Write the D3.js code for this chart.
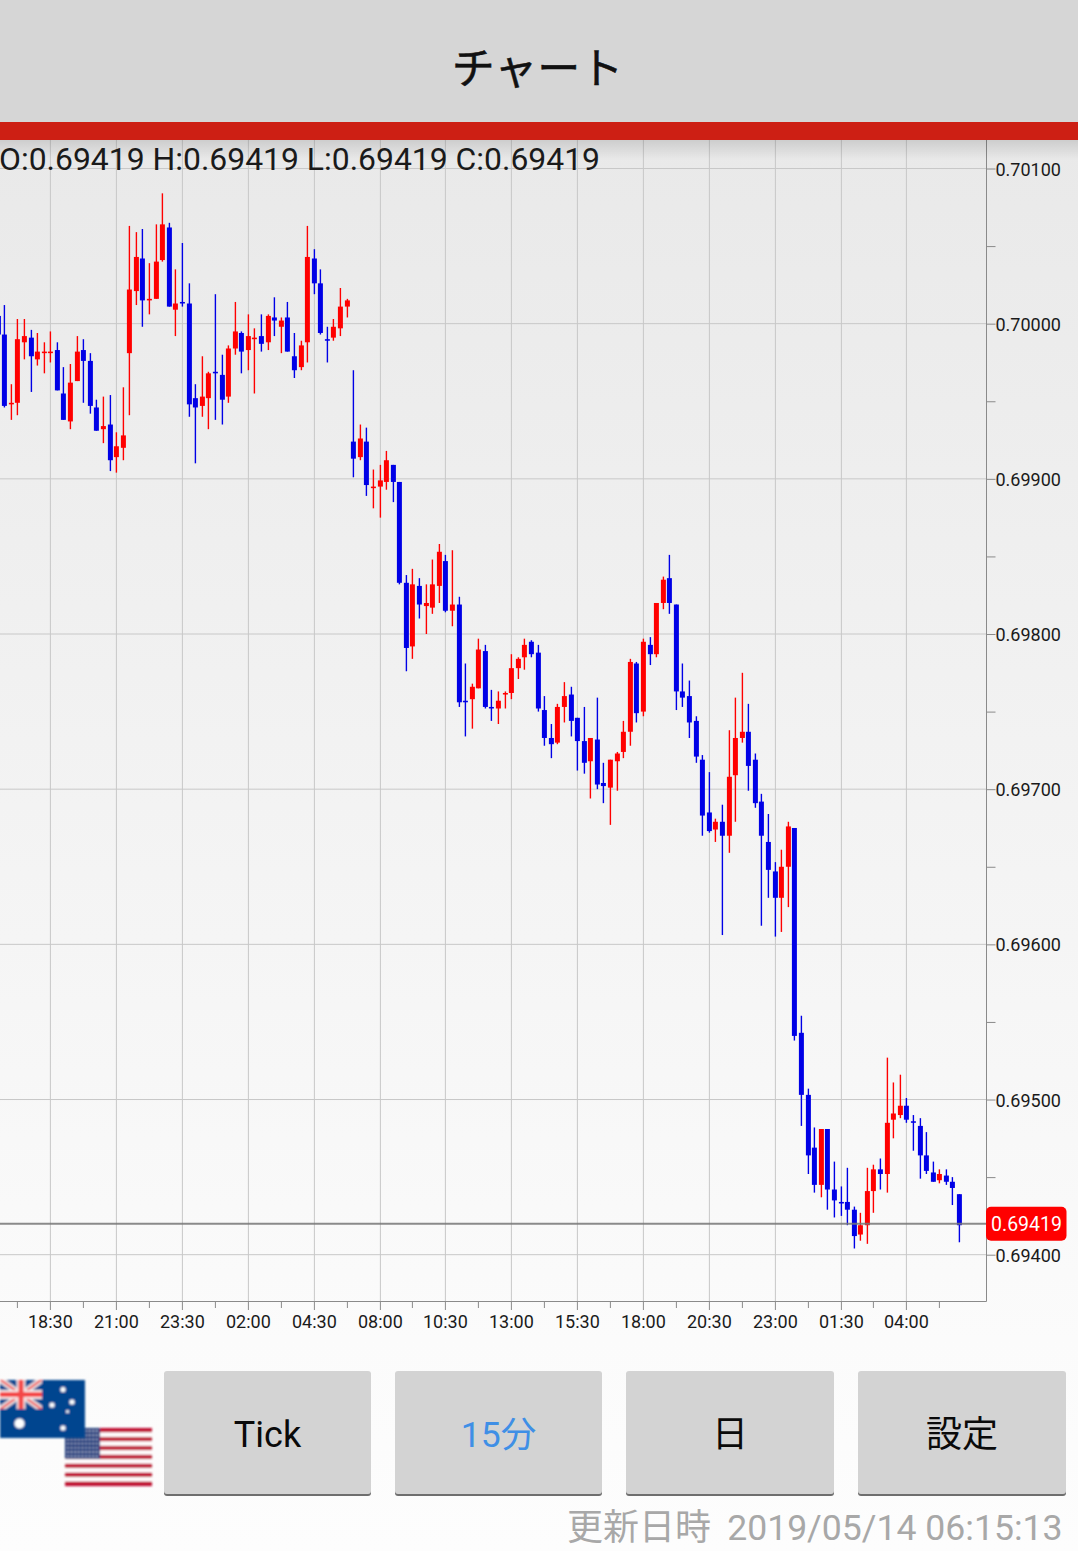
<!DOCTYPE html>
<html lang="ja">
<head>
<meta charset="utf-8">
<title>チャート</title>
<script src="https://cdn.jsdelivr.net/npm/d3@7/dist/d3.min.js"></script>
<style>
html,body{margin:0;padding:0;background:#fdfdfd;}
svg{display:block;}
text{font-family:Roboto,"Noto Sans CJK JP",sans-serif;}
.jp{font-family:"Noto Sans CJK JP",sans-serif;}
</style>
</head>
<body>
<svg id="chart" width="1078" height="1551" viewBox="0 0 1078 1551"></svg>
<script>
// Prices are expressed in 1/100000 units (69419 = 0.69419). One 15-minute candle per entry.
const opens = [70005,69993,69948,69949,69988,69991,69977,69981,69981,69983,69955,69937,69963,69983,69976,69946,69932,69935,69914,69920,
69981,70021,70042,70015,70016,70041,70062,70009,70014,70013,69952,69947,69952,69969,69967,69953,69984,69994,69983,69990,
69992,69988,70004,69998,70004,69979,69972,69988,70042,70026,69990,69991,69997,70011,69924,69914,69924,69894,69895,69898,
69909,69898,69833,69792,69831,69818,69817,69831,69847,69815,69819,69757,69758,69765,69789,69753,69752,69761,69762,69778,
69785,69795,69788,69751,69733,69730,69753,69761,69746,69731,69718,69732,69704,69701,69718,69724,69737,69781,69750,69793,
69787,69820,69836,69819,69763,69760,69744,69719,69685,69674,69679,69670,69709,69733,69737,69719,69692,69666,69647,69630,
69650,69675,69543,69503,69469,69445,69481,69442,69434,69434,69429,69413,69419,69441,69455,69452,69487,69490,69496,69486,
69483,69464,69453,69448,69451,69447,69439];
const closes = [69993,69947,69949,69990,69992,69979,69982,69982,69982,69957,69938,69962,69982,69976,69947,69931,69934,69912,69921,69928,
70022,70043,70015,70016,70040,70064,70011,70013,70013,69948,69946,69953,69968,69968,69951,69984,69995,69982,69992,69991,
69987,70005,70002,70002,69982,69970,69986,70043,70026,69994,69989,69998,70011,70015,69913,69926,69896,69895,69899,69912,
69898,69833,69791,69832,69819,69820,69832,69853,69815,69819,69756,69756,69766,69790,69753,69752,69757,69762,69778,69784,
69793,69787,69752,69733,69729,69753,69760,69744,69731,69717,69733,69703,69702,69719,69723,69737,69782,69749,69795,69787,
69820,69835,69820,69763,69759,69743,69721,69683,69673,69679,69670,69708,69733,69737,69715,69691,69670,69648,69630,69650,
69676,69541,69503,69464,69445,69481,69442,69435,69433,69429,69412,69419,69441,69455,69452,69485,69491,69496,69487,69485,
69464,69454,69447,69452,69447,69443,69419];
const highs = [70007,70012,69961,70003,70003,69996,69994,69988,69995,69988,69972,69974,69992,69990,69981,69951,69953,69954,69930,69959,
70063,70059,70061,70039,70064,70084,70065,70035,70052,70026,69961,69979,69969,70019,69980,69986,70014,69995,70006,69997,
70006,70006,70017,70004,70014,69994,69989,70063,70048,70035,69998,70003,70023,70016,69970,69935,69933,69906,69909,69918,
69909,69898,69838,69842,69836,69832,69848,69858,69851,69854,69824,69781,69768,69797,69793,69764,69763,69763,69787,69785,
69797,69796,69793,69760,69742,69755,69769,69766,69746,69753,69733,69759,69717,69719,69724,69744,69784,69782,69797,69798,
69820,69837,69851,69819,69781,69770,69747,69722,69711,69681,69690,69738,69759,69775,69755,69723,69697,69684,69653,69661,
69679,69675,69554,69507,69482,69481,69481,69460,69444,69456,69431,69427,69456,69458,69462,69527,69511,69516,69501,69490,
69488,69479,69460,69455,69455,69450,69439];
const lows = [69992,69946,69938,69941,69977,69956,69973,69968,69975,69957,69938,69932,69963,69949,69942,69931,69923,69905,69904,69912,
69941,70012,69998,70006,70016,70040,70011,69992,70011,69940,69910,69940,69932,69938,69935,69949,69980,69968,69970,69955,
69982,69983,69992,69981,69982,69965,69970,69975,70019,69993,69975,69989,69992,70004,69901,69912,69889,69881,69875,69893,
69885,69832,69776,69784,69810,69800,69813,69820,69814,69805,69753,69734,69739,69765,69752,69744,69742,69752,69758,69771,
69777,69785,69750,69728,69720,69729,69743,69734,69712,69710,69694,69700,69691,69677,69699,69720,69728,69743,69747,69780,
69785,69816,69813,69751,69753,69733,69717,69670,69672,69666,69606,69659,69679,69730,69699,69688,69612,69630,69605,69608,
69624,69538,69483,69452,69440,69437,69429,69424,69425,69419,69404,69409,69407,69427,69442,69440,69475,69488,69485,69467,
69449,69452,69447,69446,69445,69432,69408];

const timeLabels = ["18:30","21:00","23:30","02:00","04:30","08:00","10:30","13:00","15:30","18:00","20:30","23:00","01:30","04:00"];
const timeTickIndex = [8,18,28,38,48,58,68,78,88,98,108,118,128,138];
const minorTimeIndex = [3,13,23,33,43,53,63,73,83,93,103,113,123,133,143];
const priceLabels = [69400,69500,69600,69700,69800,69900,70000,70100];
const priceMinor = [69450,69550,69650,69750,69850,69950,70050];
const currentPrice = 69419;
const ohlcText = "O:0.69419 H:0.69419 L:0.69419 C:0.69419";
const updateLabel = "更新日時";
const updateStamp = "2019/05/14 06:15:13";
const buttons = ["Tick","15分","日","設定"];

const svg = d3.select("#chart");
const defs = svg.append("defs");
const bg = defs.append("linearGradient").attr("id","bg").attr("x1",0).attr("y1",0).attr("x2",0).attr("y2",1);
bg.append("stop").attr("offset","0%").attr("stop-color","#e9e9e9");
bg.append("stop").attr("offset","85%").attr("stop-color","#fbfbfb");
bg.append("stop").attr("offset","100%").attr("stop-color","#fdfdfd");
const sh = defs.append("linearGradient").attr("id","sh").attr("x1",0).attr("y1",0).attr("x2",0).attr("y2",1);
sh.append("stop").attr("offset","0%").attr("stop-color","#000").attr("stop-opacity",0.12);
sh.append("stop").attr("offset","100%").attr("stop-color","#000").attr("stop-opacity",0);
defs.append("filter").attr("id","soft").attr("x","-5%").attr("y","-5%").attr("width","110%").attr("height","110%")
  .append("feGaussianBlur").attr("stdDeviation",0.9);
defs.append("clipPath").attr("id","jack").append("rect").attr("x",0).attr("y",1380).attr("width",42).attr("height",29);
defs.append("clipPath").attr("id","plot").append("rect").attr("x",0).attr("y",140).attr("width",986).attr("height",1161);

// page
svg.append("rect").attr("x",0).attr("y",140).attr("width",1078).attr("height",1411).attr("fill","url(#bg)");

// scales
const plot = {left:0,right:986,top:140,bottom:1301};
const x = d3.scaleLinear().domain([8,138]).range([50.3,906.35]);
const y = d3.scaleLinear().domain([69400,70100]).range([1254.7,168.5]);
const px = v => Math.floor(x(v) + 0.5) + 0.4;

// grid
svg.append("g").selectAll("line").data(timeTickIndex).join("line")
  .attr("x1",d=>px(d)).attr("x2",d=>px(d)).attr("y1",plot.top).attr("y2",plot.bottom)
  .attr("stroke","#c8c8c8").attr("stroke-width",1);
svg.append("g").selectAll("line").data(priceLabels).join("line")
  .attr("x1",plot.left).attr("x2",plot.right).attr("y1",d=>y(d)).attr("y2",d=>y(d))
  .attr("stroke","#c8c8c8").attr("stroke-width",1);

// candles
const candles = opens.map((o,i)=>({i,o,c:closes[i],h:highs[i],l:lows[i]}));
const colour = d => d.c > d.o ? "#ff0000" : "#0000e6";
const gC = svg.append("g").attr("clip-path","url(#plot)");
gC.selectAll("line.w").data(candles).join("line").attr("class","w")
  .attr("x1",d=>px(d.i)).attr("x2",d=>px(d.i)).attr("y1",d=>y(d.h)).attr("y2",d=>y(d.l))
  .attr("stroke",colour).attr("stroke-width",1.4);
gC.selectAll("rect.b").data(candles).join("rect").attr("class","b")
  .attr("x",d=>px(d.i)-2.5).attr("width",5)
  .attr("y",d=>y(Math.max(d.o,d.c))).attr("height",d=>Math.max(1.5,Math.abs(y(d.o)-y(d.c))))
  .attr("fill",colour);

// current price line
svg.append("line").attr("x1",0).attr("x2",plot.right).attr("y1",y(currentPrice)-1.4).attr("y2",y(currentPrice)-1.4)
  .attr("stroke","#777").attr("stroke-opacity",0.85).attr("stroke-width",2);

// axes
const fmtPrice = d => (d/100000).toFixed(5);
const yAxis = svg.append("g").attr("transform",`translate(${plot.right+0.5},0)`)
  .call(d3.axisRight(y).tickValues(priceLabels).tickFormat(fmtPrice).tickSize(9).tickPadding(0));
yAxis.select(".domain").remove();
yAxis.selectAll("line").attr("stroke","#8a8a8a");
yAxis.selectAll("text").attr("font-size",18).attr("fill","#1a1a1a").attr("font-family","Roboto")
  .attr("transform","translate(0,0.8)");
const yMinor = svg.append("g").attr("transform",`translate(${plot.right+0.5},0)`)
  .call(d3.axisRight(y).tickValues(priceMinor).tickFormat("").tickSize(9));
yMinor.select(".domain").remove();
yMinor.selectAll("line").attr("stroke","#8a8a8a");

const xAxis = svg.append("g").attr("transform",`translate(0,${plot.bottom})`)
  .call(d3.axisBottom(d3.scalePoint().domain(timeTickIndex).range([px(8),px(138)]))
    .tickValues(timeTickIndex).tickFormat((d,i)=>timeLabels[i]).tickSize(9).tickPadding(5).offset(0));
xAxis.select(".domain").remove();
xAxis.selectAll(".tick").attr("transform",d=>`translate(${px(d)},0)`);
xAxis.selectAll("line").attr("stroke","#8a8a8a");
xAxis.selectAll("text").attr("font-size",18).attr("fill","#1a1a1a").attr("font-family","Roboto");
svg.append("g").selectAll("line").data(minorTimeIndex).join("line")
  .attr("x1",d=>px(d)).attr("x2",d=>px(d)).attr("y1",plot.bottom).attr("y2",plot.bottom+7)
  .attr("stroke","#8a8a8a");
svg.append("line").attr("x1",0).attr("x2",plot.right+0.5).attr("y1",plot.bottom+0.5).attr("y2",plot.bottom+0.5).attr("stroke","#8a8a8a");
svg.append("line").attr("x1",plot.right+0.5).attr("x2",plot.right+0.5).attr("y1",plot.top).attr("y2",plot.bottom+0.5).attr("stroke","#8a8a8a");

// current price tag
svg.append("rect").attr("x",986).attr("y",y(currentPrice)-18.4).attr("width",80.5).attr("height",34).attr("rx",5).attr("fill","#ff0000");
svg.append("text").attr("x",1026.5).attr("y",y(currentPrice)+5.5).attr("text-anchor","middle")
  .attr("font-size",19.5).attr("fill","#fff").text(fmtPrice(currentPrice));

// header
svg.append("rect").attr("width",1078).attr("height",122).attr("fill","#d6d6d6");
svg.append("rect").attr("y",122).attr("width",1078).attr("height",18).attr("fill","#cd1f14");
svg.append("rect").attr("y",140).attr("width",1078).attr("height",20).attr("fill","url(#sh)");
svg.append("text").attr("class","jp").attr("x",537.5).attr("y",84).attr("text-anchor","middle")
  .attr("font-size",43).attr("fill","#111").attr("stroke","#111").attr("stroke-width",0.5).text("チャート");
svg.append("text").attr("x",-1).attr("y",170).attr("font-size",31.9).attr("fill","#1a1a1a").text(ohlcText);

// flags
const us = svg.append("g").attr("filter","url(#soft)");
us.selectAll("rect.s").data(d3.range(13)).join("rect").attr("class","s")
  .attr("x",65).attr("width",87).attr("y",d=>1428+d*58/13).attr("height",58/13+0.1)
  .attr("fill",d=>d%2?"#ffffff":"#bf0a30");
us.append("rect").attr("x",65).attr("y",1428).attr("width",35).attr("height",31).attr("fill","#1f3a7a");
us.selectAll("circle").data(d3.cross(d3.range(9),d3.range(7))).join("circle")
  .attr("cx",d=>68+d[0]*3.6).attr("cy",d=>1431+d[1]*4.2).attr("r",0.9).attr("fill","#cfd6ea");
const au = svg.append("g").attr("filter","url(#soft)");
au.append("rect").attr("x",0).attr("y",1380).attr("width",85).attr("height",58).attr("fill","#00458f");
const jack = au.append("g").attr("clip-path","url(#jack)");
jack.append("path").attr("d","M-2 1378L44 1411M-2 1411L44 1378").attr("stroke","#f0e6e6").attr("stroke-width",6);
jack.append("path").attr("d","M-2 1378L44 1411M-2 1411L44 1378").attr("stroke","#ef4a4a").attr("stroke-width",2);
jack.append("path").attr("d","M21 1378V1411M-2 1394.5H44").attr("stroke","#f5eaea").attr("stroke-width",9);
jack.append("path").attr("d","M21 1378V1411M-2 1394.5H44").attr("stroke","#f44646").attr("stroke-width",5);
au.selectAll("circle").data([[63,1389.5,2.6],[52,1405,2.6],[72,1402,2.6],[67.5,1411.5,1.6],[63,1428,2.6],[19.5,1423.5,5]]).join("circle")
  .attr("cx",d=>d[0]).attr("cy",d=>d[1]).attr("r",d=>d[2]).attr("fill","#fff");

// buttons
const btnX = d3.scaleOrdinal().domain(buttons).range([164,395,626,858]);
const btnW = d3.scaleOrdinal().domain(buttons).range([207,207,208,208]);
const btn = svg.append("g").selectAll("g").data(buttons).join("g");
btn.append("rect").attr("x",d=>btnX(d)).attr("y",1373).attr("width",d=>btnW(d)).attr("height",123).attr("rx",3).attr("fill","#6e6e6e");
btn.append("rect").attr("x",d=>btnX(d)).attr("y",1371).attr("width",d=>btnW(d)).attr("height",123).attr("rx",3).attr("fill","#d3d3d3");
btn.append("text").attr("x",d=>btnX(d)+btnW(d)/2).attr("y",1447).attr("text-anchor","middle")
  .attr("font-size",d=>d==="15分"?35.5:36).attr("fill",d=>d==="15分"?"#3f8fe6":"#0a0a0a").text(d=>d);

// footer
svg.append("text").attr("class","jp").attr("x",711).attr("y",1540).attr("text-anchor","end")
  .attr("font-size",36).attr("fill","#a8a8a8").text(updateLabel);
svg.append("text").attr("x",1062.5).attr("y",1540).attr("text-anchor","end")
  .attr("font-size",35.6).attr("fill","#a8a8a8").text(updateStamp);
</script>
</body>
</html>
